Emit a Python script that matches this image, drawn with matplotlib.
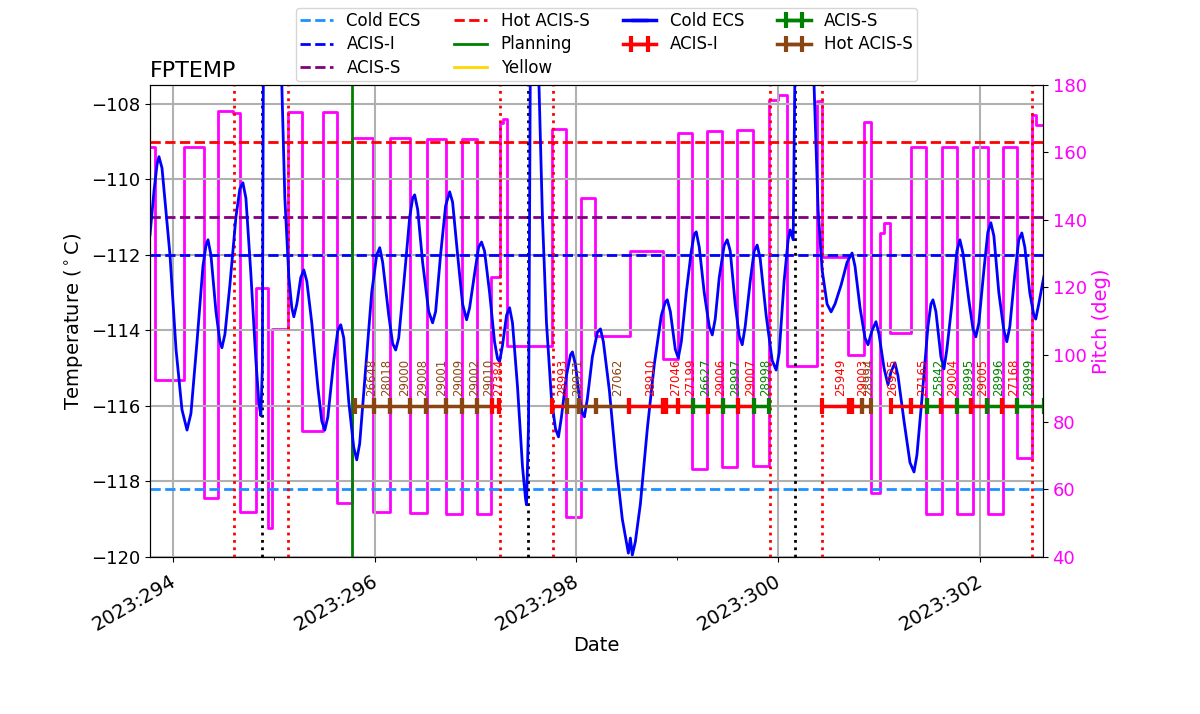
import matplotlib
matplotlib.use("Agg")
import matplotlib.pyplot as plt
from matplotlib.transforms import ScaledTranslation

# FPTEMP model, time in day-of-year 2023, degC
temp_time = [
    293.772, 293.812, 293.842, 293.861, 293.891, 293.970, 294.030, 294.089,
    294.139, 294.178, 294.238, 294.297, 294.327, 294.347, 294.376, 294.426,
    294.465, 294.485, 294.515, 294.564, 294.624, 294.663, 294.693, 294.723,
    294.772, 294.822, 294.851, 294.871, 294.886, 294.896, 294.980, 295.076,
    295.109, 295.149, 295.178, 295.198, 295.228, 295.267, 295.297, 295.327,
    295.376, 295.436, 295.475, 295.505, 295.535, 295.594, 295.634, 295.663,
    295.693, 295.743, 295.792, 295.822, 295.851, 295.911, 295.970, 296.020,
    296.050, 296.079, 296.139, 296.178, 296.208, 296.238, 296.287, 296.347,
    296.376, 296.396, 296.426, 296.475, 296.535, 296.574, 296.604, 296.653,
    296.703, 296.743, 296.772, 296.822, 296.871, 296.911, 296.941, 296.990,
    297.030, 297.059, 297.089, 297.139, 297.188, 297.218, 297.238, 297.267,
    297.307, 297.337, 297.366, 297.416, 297.465, 297.495, 297.505, 297.525,
    297.542, 297.584, 297.629, 297.663, 297.703, 297.752, 297.792, 297.822,
    297.851, 297.901, 297.941, 297.960, 297.990, 298.030, 298.059, 298.079,
    298.109, 298.158, 298.208, 298.238, 298.267, 298.327, 298.396, 298.455,
    298.495, 298.515, 298.535, 298.554, 298.584, 298.634, 298.703, 298.772,
    298.842, 298.881, 298.901, 298.931, 298.980, 299.010, 299.040, 299.089,
    299.139, 299.168, 299.188, 299.218, 299.267, 299.317, 299.347, 299.376,
    299.416, 299.465, 299.495, 299.525, 299.574, 299.614, 299.644, 299.673,
    299.723, 299.762, 299.792, 299.822, 299.881, 299.941, 299.980, 300.010,
    300.059, 300.099, 300.119, 300.149, 300.165, 300.257, 300.356, 300.396,
    300.436, 300.485, 300.525, 300.564, 300.624, 300.683, 300.733, 300.762,
    300.812, 300.861, 300.891, 300.931, 300.970, 301.000, 301.050, 301.089,
    301.119, 301.158, 301.188, 301.248, 301.307, 301.347, 301.376, 301.426,
    301.485, 301.515, 301.535, 301.564, 301.614, 301.644, 301.673, 301.723,
    301.772, 301.802, 301.832, 301.891, 301.931, 301.960, 301.990, 302.040,
    302.079, 302.109, 302.139, 302.188, 302.238, 302.267, 302.297, 302.347,
    302.386, 302.416, 302.446, 302.495, 302.535, 302.554, 302.584, 302.634]
temp_vals = [
    -111.47, -110.30, -109.60, -109.40, -109.70, -112.00, -114.50, -116.10,
    -116.64, -116.20, -114.30, -112.30, -111.75, -111.60, -112.00, -113.50,
    -114.30, -114.46, -114.10, -112.80, -111.00, -110.25, -110.09, -110.50,
    -112.50, -114.80, -115.90, -116.26, -115.00, -107.00, -103.00, -107.20,
    -110.50, -112.60, -113.40, -113.64, -113.30, -112.60, -112.40, -112.70,
    -113.80, -115.50, -116.40, -116.64, -116.30, -114.80, -114.00, -113.85,
    -114.20, -115.90, -117.10, -117.43, -117.00, -115.00, -113.00, -112.00,
    -111.81, -112.20, -113.60, -114.35, -114.52, -114.20, -112.80, -111.00,
    -110.50, -110.41, -110.80, -112.20, -113.50, -113.80, -113.50, -112.00,
    -110.70, -110.33, -110.60, -112.00, -113.30, -113.72, -113.40, -112.50,
    -111.80, -111.66, -111.90, -113.00, -114.30, -114.75, -114.83, -114.40,
    -113.60, -113.40, -113.80, -115.50, -117.60, -118.45, -118.62, -116.50,
    -107.50, -103.00, -107.50, -111.00, -113.80, -115.80, -116.60, -116.82,
    -116.30, -115.20, -114.65, -114.57, -114.90, -115.80, -116.20, -116.29,
    -115.80, -114.70, -114.05, -113.96, -114.30, -115.60, -117.60, -119.00,
    -119.60, -119.90, -119.50, -119.95, -119.60, -118.60, -116.60, -114.90,
    -113.60, -113.25, -113.19, -113.50, -114.50, -114.73, -114.30, -113.00,
    -111.90, -111.45, -111.39, -111.80, -113.00, -113.90, -114.12, -113.70,
    -112.60, -111.75, -111.60, -111.90, -113.30, -114.15, -114.38, -113.90,
    -112.70, -111.90, -111.74, -112.10, -113.60, -114.80, -115.05, -114.60,
    -112.70, -111.60, -111.34, -111.60, -107.50, -103.00, -107.50, -110.80,
    -112.40, -113.30, -113.51, -113.30, -112.80, -112.20, -111.95, -112.30,
    -113.40, -114.20, -114.38, -114.00, -113.77, -114.10, -115.00, -115.44,
    -115.10, -114.86, -115.20, -116.40, -117.50, -117.75, -117.30, -115.80,
    -113.90, -113.30, -113.19, -113.50, -114.70, -115.02, -114.50, -113.30,
    -111.90, -111.60, -111.95, -113.20, -113.95, -114.17, -113.80, -112.40,
    -111.40, -111.15, -111.50, -113.00, -114.00, -114.30, -113.90, -112.50,
    -111.60, -111.42, -111.80, -113.00, -113.60, -113.70, -113.30, -112.58]

# pitch steps (start time, value in deg)
pitch_time = [293.772, 293.822, 294.109, 294.307, 294.446, 294.594, 294.663,
              294.822, 294.941, 294.980, 295.139, 295.277, 295.485, 295.624,
              295.772, 295.980, 296.149, 296.347, 296.515, 296.703, 296.861,
              297.010, 297.149, 297.238, 297.267, 297.307, 297.762, 297.901,
              298.050, 298.188, 298.535, 298.861, 299.010, 299.149, 299.297,
              299.446, 299.594, 299.752, 299.911, 300.000, 300.089, 300.386,
              300.436, 300.693, 300.851, 300.921, 301.010, 301.050, 301.109,
              301.317, 301.465, 301.624, 301.772, 301.931, 302.079, 302.228,
              302.366, 302.515, 302.554, 302.634]
pitch_vals = [161.6, 92.5, 161.6, 57.5, 172.3, 171.7, 53.3,
              119.8, 48.6, 107.6, 172.0, 77.4, 172.0, 56.0,
              164.3, 53.3, 164.3, 53.0, 164.0, 52.8, 164.0,
              52.8, 123.1, 168.7, 169.9, 102.6, 166.9, 51.9,
              146.5, 105.6, 130.8, 98.7, 165.8, 66.1, 166.4,
              66.7, 166.7, 67.0, 175.6, 177.0, 96.7, 175.3,
              129.0, 99.9, 169.0, 59.0, 136.1, 139.1, 106.4,
              161.6, 52.7, 161.6, 52.7, 161.6, 52.7, 161.6,
              69.4, 171.1, 168.1, 168.1]

limit_names = ["Cold ECS", "ACIS-I", "ACIS-S", "Hot ACIS-S"]
limit_vals = [-118.2, -112.0, -111.0, -109.0]
limit_colors = ["dodgerblue", "blue", "purple", "red"]

planning_time = 295.772
red_lines = [294.602, 295.142, 297.238, 297.768, 299.916, 300.434, 302.515]
black_lines = [294.886, 297.524, 300.166]

# obsids
obsid_ids = ["26648", "28018", "29000", "29008", "29001", "29009", "29002",
             "29010", "27384", "28993", "28971", "", "27062", "28910", "",
             "27046", "27199", "26627", "29006", "28997", "29007", "28998",
             "25949", "", "29003", "28994", "26925", "27165", "25842",
             "29004", "28995", "29005", "28996", "27168", "28999"]
obsid_start = [295.802, 295.990, 296.149, 296.353, 296.512, 296.710, 296.864,
               297.013, 297.161, 297.759, 297.911, 298.030, 298.195, 298.525,
               298.854, 298.888, 299.003, 299.151, 299.300, 299.449, 299.597,
               299.762, 300.439, 300.705, 300.735, 300.835, 301.116, 301.314,
               301.478, 301.614, 301.775, 301.911, 302.072, 302.218, 302.369]
obsid_stop = [295.990, 296.149, 296.353, 296.512, 296.710, 296.864, 297.013,
              297.161, 297.228, 297.911, 298.030, 298.195, 298.525, 298.854,
              298.888, 299.003, 299.151, 299.300, 299.449, 299.597, 299.762,
              299.911, 300.705, 300.735, 300.835, 300.921, 301.314, 301.478,
              301.614, 301.775, 301.911, 302.072, 302.218, 302.369, 302.640]
obsid_kind = ["Hot ACIS-S"] * 8 + ["ACIS-I", "ACIS-I"] + ["Hot ACIS-S"] * 3 + \
             ["ACIS-I"] * 4 + ["ACIS-S", "ACIS-I", "ACIS-S", "ACIS-I", "ACIS-S"] + \
             ["ACIS-I"] * 3 + ["Hot ACIS-S", "ACIS-I", "ACIS-I", "ACIS-S",
              "ACIS-I", "ACIS-S", "ACIS-I", "ACIS-S", "ACIS-I", "ACIS-S"]
obsid_label_time = [295.967, 296.116, 296.297, 296.475, 296.660, 296.835,
                    296.990, 297.129, 297.228, 297.861, 298.010, 0, 298.406,
                    298.740, 0, 298.980, 299.136, 299.284, 299.433, 299.582,
                    299.730, 299.878, 300.621, 0, 300.835, 300.901, 301.132,
                    301.429, 301.594, 301.726, 301.891, 302.023, 302.188,
                    302.337, 302.485]
obsid_y = -116.0

kind_colors = {"Cold ECS": "blue", "ACIS-I": "red", "ACIS-S": "green",
               "Hot ACIS-S": "saddlebrown"}

days = [294, 296, 298, 300, 302]
minor_days = [295, 297, 299, 301]

fig, ax = plt.subplots(figsize=(12, 7.14), dpi=100)
fig.subplots_adjust(left=0.125, right=0.869, bottom=0.22, top=0.881)
ax2 = ax.twinx()
ax.set_zorder(ax2.get_zorder() + 1)
ax.patch.set_visible(False)

ax2.plot(pitch_time, pitch_vals, drawstyle="steps-post", color="magenta", lw=2)
ax2.set_ylim(40, 180)
ax2.set_ylabel("Pitch (deg)", color="magenta", fontsize=14)
ax2.tick_params(axis="y", labelcolor="magenta", labelsize=13)

handles = []
for name, val, c in zip(limit_names, limit_vals, limit_colors):
    handles.append(ax.axhline(val, color=c, ls="--", lw=2, label=name))
handles.append(ax.axvline(planning_time, color="green", lw=2, label="Planning"))
handles.append(ax.plot([], [], color="gold", lw=2, label="Yellow")[0])

for t in red_lines:
    ax.axvline(t, color="red", ls=":", lw=2)
for t in black_lines:
    ax.axvline(t, color="black", ls=":", lw=2)

ax.plot(temp_time, temp_vals, color="blue", lw=2)

eb = {}
eb["Cold ECS"] = ax.errorbar([], [], xerr=[], fmt="-", color="blue", lw=2.5,
                             capsize=6, capthick=3, label="Cold ECS")
for oid, t0, t1, kind, tl in zip(obsid_ids, obsid_start, obsid_stop,
                                 obsid_kind, obsid_label_time):
    c = kind_colors[kind]
    lab = kind if kind not in eb else None
    e = ax.errorbar([0.5 * (t0 + t1)], [obsid_y], xerr=[0.5 * (t1 - t0)],
                    fmt="-", color=c, lw=2.5, capsize=6, capthick=3, label=lab)
    if lab:
        eb[kind] = e
    if oid:
        ax.text(tl, obsid_y + 0.25, oid, rotation=90, color=c, fontsize=8.5,
                ha="center", va="bottom", clip_on=True)
handles += [eb["Cold ECS"], eb["ACIS-I"], eb["ACIS-S"], eb["Hot ACIS-S"]]

ax.set_xlim(293.772, 302.624)
ax.set_ylim(-120, -107.5)
ax.set_xticks(days)
ax.set_xticklabels([f"2023:{d}" for d in days], rotation=30, ha="right")
ax.set_xticks(minor_days, minor=True)
ax.set_yticks(range(-120, -107, 2))
ax.tick_params(axis="y", labelsize=13)
ax.tick_params(axis="x", labelsize=14)
shift = ScaledTranslation(0.06, -0.05, fig.dpi_scale_trans)
for lbl in ax.get_xticklabels():
    lbl.set_transform(lbl.get_transform() + shift)
ax.grid(True, color="#b0b0b0", lw=1.5)
ax.set_xlabel("Date", fontsize=14, labelpad=1)
ax.set_ylabel("Temperature ($^\\circ$C)", fontsize=14)
ax.set_title("FPTEMP", loc="left", fontsize=16)

ax.legend(handles=handles, labels=[h.get_label() for h in handles], ncol=4,
          loc="lower center", bbox_to_anchor=(0.511, 1.0), fontsize=12,
          labelspacing=0.32, borderpad=0.25, borderaxespad=0.24)

fig.savefig("out.png")
